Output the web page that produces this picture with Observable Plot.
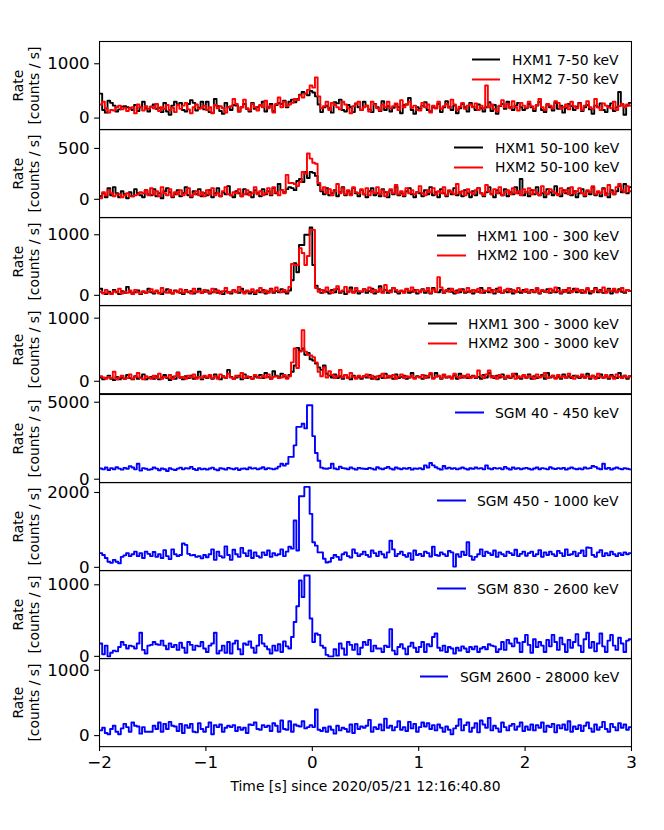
<!DOCTYPE html>
<html><head><meta charset="utf-8">
<script src="https://cdn.jsdelivr.net/npm/d3@7"></script>
<script src="https://cdn.jsdelivr.net/npm/@observablehq/plot@0.6"></script>
<style>
body{margin:0;background:#fff;}
#chart{position:relative;width:664px;height:830px;font-family:"DejaVu Sans",sans-serif;}
#chart svg{position:absolute;left:0;overflow:visible;background:transparent;}
</style></head><body><div id="chart"></div>
<script>
// time bins: start -2 s, width 0.025 s
const tStart = -2, binWidth = 0.025;
const xTicks = [-2, -1, 0, 1, 2, 3];
const xLabel = "Time [s] since 2020/05/21 12:16:40.80";
const yLabel = "Rate\n[counts / s]";

const hxm1_7_50 = [
450,150,100,320,280,230,120,160,210,220,200,180,150,240,130,200,300,180,120,210,
250,170,190,110,280,120,60,230,300,250,280,150,120,260,330,280,140,190,300,160,
300,110,100,350,220,130,80,280,200,150,240,230,120,200,260,170,120,280,170,200,
230,300,120,200,260,130,240,280,260,320,200,300,340,290,350,430,480,450,420,500,
470,400,250,110,200,230,180,100,290,270,340,150,120,240,200,110,270,200,150,300,
230,160,110,260,200,130,310,150,220,120,190,260,200,90,240,250,370,150,80,200,
170,230,290,150,120,200,180,260,110,200,310,210,150,230,90,180,260,200,120,280,
210,150,250,180,120,200,290,130,240,80,220,260,170,300,200,150,230,280,200,150,
180,260,200,130,230,300,150,110,250,200,140,280,170,230,100,190,260,220,150,210,
280,130,200,240,160,80,230,200,270,150,110,220,270,130,200,480,250,60,230,280];
const hxm2_7_50 = [
250,300,180,100,150,140,200,230,160,190,130,180,200,90,250,200,140,220,170,210,
180,260,130,200,170,240,150,190,110,240,170,230,280,160,90,200,250,170,190,230,
150,200,90,240,180,220,180,100,200,220,350,260,120,200,340,180,150,260,200,140,
240,200,320,180,230,100,260,380,200,300,220,250,280,350,330,420,380,450,520,600,
560,750,400,180,220,300,150,280,240,200,160,300,250,180,90,220,260,300,150,200,
230,120,300,250,180,140,250,200,300,180,220,270,150,330,200,250,300,190,230,150,
140,280,200,250,100,230,180,300,170,220,260,190,340,250,150,210,280,170,230,250,
200,270,150,230,180,600,200,250,170,120,230,330,200,260,180,310,200,140,280,230,
190,300,220,170,240,350,200,150,260,230,180,310,280,170,200,250,160,300,220,180,
270,150,230,310,200,170,350,200,150,270,230,200,180,300,150,220,260,200,250,230];

const hxm1_50_100 = [
30,60,20,110,40,120,60,20,80,50,10,70,30,100,60,40,20,90,50,40,
100,30,60,10,80,110,70,20,50,90,30,60,120,40,20,80,50,100,30,60,
40,90,20,60,110,30,70,50,130,40,20,80,60,30,100,50,70,20,90,60,
30,100,50,80,40,110,60,150,90,70,100,120,110,90,180,200,170,270,210,270,
260,230,140,80,50,110,40,60,90,30,70,120,40,80,50,110,60,30,90,50,
20,80,110,40,60,30,100,70,20,90,50,120,40,60,30,80,110,50,20,70,
60,30,90,50,120,40,70,20,100,60,30,80,50,110,40,70,30,90,60,20,
80,40,110,60,30,70,120,50,20,90,60,40,100,30,70,50,120,60,200,40,
70,30,90,50,120,40,60,20,100,70,40,130,50,30,90,60,110,40,80,20,
60,100,30,80,50,120,40,70,30,110,60,20,90,50,80,130,70,150,60,120];
const hxm2_50_100 = [
10,70,40,90,60,30,50,50,20,40,60,30,30,40,50,70,60,90,40,110,
50,80,30,120,60,40,100,30,70,50,90,40,60,110,30,50,80,40,70,30,
90,50,110,40,60,30,80,120,50,40,70,60,100,30,50,90,40,60,120,50,
80,40,60,110,50,120,70,40,90,60,240,160,160,150,130,170,270,250,450,400,
360,350,160,90,120,60,100,40,80,150,60,110,50,90,40,120,70,60,100,50,
110,40,80,60,120,50,90,30,70,100,60,140,50,80,40,110,60,90,50,70,
130,60,40,90,70,110,50,80,60,120,40,90,70,50,150,60,80,40,100,70,
50,90,110,60,40,140,80,50,100,60,120,40,70,90,50,110,60,80,40,100,
70,110,50,90,60,40,130,70,50,100,80,60,40,110,70,90,50,120,60,80,
110,60,40,90,70,130,50,80,60,100,40,140,70,50,120,150,90,70,130,80];

const hxm1_100_300 = [
110,40,20,60,30,90,50,20,70,40,140,60,30,50,80,20,60,40,110,50,
30,70,40,20,60,100,50,30,80,60,40,20,90,50,70,30,60,110,40,60,
80,30,50,100,40,60,20,70,50,30,90,60,40,110,50,70,30,60,20,80,
50,90,30,60,110,40,70,50,100,60,30,80,250,530,380,830,830,1000,1000,1120,
500,160,100,40,80,60,30,90,50,110,40,70,20,60,130,50,80,30,60,100,
40,70,110,30,60,150,50,90,40,80,120,60,30,70,50,100,40,60,90,30,
60,100,40,80,30,120,60,50,90,40,70,110,60,30,80,50,100,40,60,70,
30,80,60,120,40,70,50,90,30,110,60,40,80,50,100,30,70,60,40,90,
60,40,90,50,110,30,70,60,100,40,80,50,120,30,60,90,40,70,110,50,
80,40,60,100,30,70,120,50,90,40,60,110,30,80,50,100,60,40,90,70];
const hxm2_100_300 = [
60,30,90,40,20,70,50,110,30,60,40,80,20,90,50,30,70,40,60,100,
50,80,30,120,60,40,90,30,70,50,100,40,80,60,30,110,50,70,40,90,
60,40,110,50,80,30,70,120,40,60,90,50,140,70,30,80,60,100,40,70,
120,50,80,40,100,60,130,70,50,90,60,140,520,500,500,780,700,500,650,1080,
1080,120,60,90,50,130,70,40,100,150,60,80,140,50,90,40,120,70,60,100,
80,130,50,90,60,110,40,170,70,50,120,90,60,80,40,110,70,130,60,90,
50,90,70,120,40,100,60,300,130,50,90,60,110,70,40,100,80,60,120,50,
90,60,110,40,80,70,120,50,90,60,130,40,80,110,60,90,50,120,70,60,
100,50,80,60,120,40,90,70,50,110,60,130,70,40,90,60,120,50,80,110,
60,90,40,120,70,50,110,80,60,130,40,90,70,110,50,80,120,60,90,70];

const hxm1_300_3000 = [
60,30,50,90,40,20,70,30,60,40,100,50,30,80,40,60,110,30,50,70,
40,80,30,60,100,50,20,70,40,140,60,30,80,50,90,40,60,150,30,70,
50,90,40,110,60,30,80,50,180,70,40,60,90,30,110,50,70,40,80,60,
100,50,130,70,40,160,90,60,120,80,50,100,150,250,530,480,520,420,450,350,
330,280,220,180,250,120,90,60,110,50,80,40,100,60,30,90,50,70,40,80,
60,100,40,70,30,90,50,120,60,80,40,110,50,70,90,40,60,130,50,80,
70,40,90,60,110,50,130,80,40,100,60,70,50,90,40,120,60,80,50,70,
90,50,70,40,100,60,130,80,50,90,60,110,40,70,50,80,120,60,40,90,
60,110,40,80,50,70,100,40,130,60,90,50,70,40,110,60,80,50,90,70,
50,80,60,120,40,90,70,50,110,60,80,40,100,70,50,130,60,90,40,80];
const hxm2_300_3000 = [
80,60,40,70,50,150,30,60,90,40,50,110,40,70,130,50,30,80,60,40,
90,50,120,40,70,60,100,40,80,130,50,70,40,90,60,110,40,70,50,90,
60,100,50,80,40,110,70,50,120,60,40,90,70,130,50,80,60,40,100,70,
50,90,60,110,40,70,80,50,60,100,40,80,300,520,210,470,810,470,420,410,
380,300,150,80,220,60,160,100,50,80,180,60,100,50,130,70,40,90,60,80,
110,60,90,40,80,70,120,50,90,60,100,40,70,110,50,80,60,90,40,70,
60,100,50,80,130,40,70,90,50,110,60,80,40,120,70,50,90,60,110,50,
80,60,170,90,50,110,170,60,80,40,100,70,50,90,60,120,40,80,60,100,
50,90,70,40,110,60,80,130,50,70,90,40,100,60,80,50,120,70,40,90,
70,110,50,80,60,90,40,120,70,50,100,60,80,40,110,70,50,90,60,80];

const sgm_40_450 = [
700,640,760,600,720,650,780,690,620,740,680,850,760,640,1000,560,720,680,610,650,
760,690,580,700,650,530,710,640,600,690,750,640,720,700,800,660,590,710,640,680,
620,700,750,640,580,710,680,620,740,690,650,720,600,680,700,650,760,690,720,640,
700,780,650,720,690,640,700,820,1000,880,1000,1450,1450,2200,3400,3400,3600,3300,4800,4800,
2800,1700,1200,750,700,680,720,1000,700,640,820,720,700,650,760,690,620,740,700,680,
660,740,690,620,780,700,650,720,800,690,630,760,700,650,720,680,740,620,700,680,
720,650,900,760,1050,900,780,690,620,860,700,750,680,720,640,700,760,690,630,710,
670,760,690,720,640,900,700,650,740,690,720,640,800,700,620,760,680,720,650,700,
740,680,620,700,760,650,720,690,640,780,700,660,720,680,740,620,700,760,690,650,
700,640,760,690,720,860,800,700,650,1000,680,740,620,700,760,690,650,720,680,640];

const sgm_450_1000 = [
380,330,250,150,120,200,150,110,280,320,380,300,350,420,300,380,250,420,360,300,
410,280,350,250,460,300,220,480,350,300,330,640,600,360,320,330,280,300,240,330,
270,350,480,200,420,300,260,560,330,200,470,350,280,520,380,300,450,250,400,300,
260,400,330,450,280,380,320,350,480,300,420,550,500,1250,450,1900,1900,2150,2150,1430,
670,580,400,400,230,130,150,250,330,280,200,350,400,300,260,480,380,300,350,420,
330,280,450,380,300,420,350,260,400,710,480,300,360,420,330,280,380,200,450,330,
360,300,420,380,290,550,330,310,400,350,300,440,400,20,350,280,420,330,670,300,
200,280,350,480,300,420,380,330,450,280,400,350,300,420,380,330,470,300,360,420,
310,380,420,300,350,460,280,400,330,420,350,300,440,380,300,480,330,350,420,300,
380,450,300,530,520,330,280,400,460,300,380,320,420,350,300,380,330,400,350,380];

const sgm_830_2600 = [
180,30,150,0,50,80,70,130,200,160,110,150,140,110,180,330,90,40,150,160,
200,170,160,220,150,100,180,130,160,90,190,120,50,200,160,90,150,140,200,110,
60,150,180,330,40,80,150,50,200,40,180,220,100,30,180,160,210,120,50,150,
300,180,140,100,40,150,80,170,60,210,140,110,270,480,700,1060,830,1130,1130,530,
200,320,300,150,120,20,0,0,100,10,180,110,20,200,160,90,170,30,120,200,
160,230,70,150,110,110,60,150,130,380,80,30,130,170,110,30,140,190,120,60,
130,200,60,170,140,270,320,120,80,150,60,130,110,40,120,80,140,110,60,130,
100,140,60,110,130,100,170,150,140,60,100,200,90,230,180,140,250,190,60,200,
300,160,50,240,130,200,150,60,230,140,300,200,90,260,170,60,230,120,200,310,
150,60,240,330,120,200,70,180,320,140,60,220,300,150,90,260,180,60,220,240];

const sgm_2600_28000 = [
80,120,40,20,100,150,60,20,110,180,130,60,200,150,140,30,130,60,60,60,
150,100,200,60,180,100,210,150,140,70,180,40,160,120,180,60,50,190,100,60,
130,200,20,160,130,170,60,120,150,130,160,70,130,90,120,40,170,160,200,100,
90,160,130,150,70,190,150,60,230,100,90,220,60,170,150,140,220,110,130,160,
130,400,90,70,120,60,140,90,30,150,80,120,100,60,170,40,180,100,140,120,
150,240,60,130,100,170,80,260,120,150,80,130,220,90,130,70,210,110,180,60,
130,200,140,190,100,160,80,170,120,60,140,90,20,110,150,250,80,160,200,60,
120,190,50,230,170,120,270,80,150,110,60,200,130,80,150,180,90,140,200,70,
140,90,170,80,160,120,200,60,150,130,180,50,160,110,170,90,220,60,140,100,
160,70,150,200,110,60,170,90,130,210,100,60,180,130,80,190,120,170,90,130];

const panels = [
  {series:[{v:hxm1_7_50,c:"black",l:"HXM1 7-50 keV"},{v:hxm2_7_50,c:"red",l:"HXM2 7-50 keV"}], domain:[-213,1410], ticks:[0,1000], leg:[472,500,512]},
  {series:[{v:hxm1_50_100,c:"black",l:"HXM1 50-100 keV"},{v:hxm2_50_100,c:"red",l:"HXM2 50-100 keV"}], domain:[-180,686], ticks:[0,500], leg:[454,483,495]},
  {series:[{v:hxm1_100_300,c:"black",l:"HXM1 100 - 300 keV"},{v:hxm2_100_300,c:"red",l:"HXM2 100 - 300 keV"}], domain:[-170,1285], ticks:[0,1000], leg:[437,466,477]},
  {series:[{v:hxm1_300_3000,c:"black",l:"HXM1 300 - 3000 keV"},{v:hxm2_300_3000,c:"red",l:"HXM2 300 - 3000 keV"}], domain:[-196,1201], ticks:[0,1000], leg:[428,457,468]},
  {series:[{v:sgm_40_450,c:"blue",l:"SGM 40 - 450 keV"}], domain:[-222,5502], ticks:[0,5000], leg:[455,484,495]},
  {series:[{v:sgm_450_1000,c:"blue",l:"SGM 450 - 1000 keV"}], domain:[-88,2267], ticks:[0,2000], leg:[437,466,477]},
  {series:[{v:sgm_830_2600,c:"blue",l:"SGM 830 - 2600 keV"}], domain:[-32,1200], ticks:[0,1000], leg:[437,466,477]},
  {series:[{v:sgm_2600_28000,c:"blue",l:"SGM 2600 - 28000 keV"}], domain:[-169,1180], ticks:[0,1000], leg:[420,448,460]}
];

function toSteps(v){
  const pts = v.map((y,i)=>({x: tStart + i*binWidth, y}));
  pts.push({x: tStart + v.length*binWidth, y: v[v.length-1]});
  return pts;
}
function legendMark(p){
  return (index, scales, values, dims) => {
    const g = d3.create("svg:g");
    p.series.forEach((s,j)=>{
      const y = dims.marginTop + 18.5 + 20*j;
      g.append("line").attr("x1",p.leg[0]).attr("x2",p.leg[1]).attr("y1",y).attr("y2",y)
        .attr("stroke",s.c).attr("stroke-width",2);
      g.append("text").attr("x",p.leg[2]).attr("y",y).attr("dy","0.36em")
        .attr("text-anchor","start").attr("font-size",13.9).attr("fill","black").text(s.l);
    });
    return g.node();
  };
}
const minus = d => (d < 0 ? "\u2212" : "") + Math.abs(d);
const plain = d => String(d);
const chart = document.getElementById("chart");
const panelH = 88.15, top0 = 41;
panels.forEach((p,k)=>{
  const last = k === panels.length-1;
  const mt = 1, mb = last ? 84 : 1;
  const marks = [
    ...p.series.map(s => Plot.line(toSteps(s.v), {x:"x", y:"y", curve:"step-after", stroke:s.c, strokeWidth:1.9, strokeLinejoin:"round", clip:true})),
    Plot.axisY({ticks:p.ticks, tickFormat:plain, tickSize:4.9, tickPadding:4.9, fontSize:16.7, label:null, stroke:"black", fill:"black", strokeWidth:1.1}),
    Plot.frame({stroke:"black", strokeWidth:1.1}),
    Plot.text([yLabel], {frameAnchor:"left", dx:-73.5, rotate:-90, fontSize:13.9, lineHeight:1.12, textAnchor:"middle", lineAnchor:"middle", fill:"black"}),
    legendMark(p)
  ];
  if (last) {
    marks.push(Plot.axisX({ticks:xTicks, tickSize:4.9, tickPadding:4.9, fontSize:16.7, tickFormat:minus, label:null, stroke:"black", fill:"black", strokeWidth:1.1}));
    marks.push(Plot.text([xLabel], {frameAnchor:"bottom", dy:34, lineAnchor:"top", fontSize:13.9, fill:"black"}));
  }
  const svg = Plot.plot({
    width:664, height:panelH+mt+mb, marginLeft:99, marginRight:33, marginTop:mt, marginBottom:mb,
    x:{domain:[-2,3], axis: last ? undefined : null},
    y:{domain:p.domain},
    style:{fontFamily:"DejaVu Sans", background:"transparent", overflow:"visible", color:"black"},
    marks
  });
  svg.style.top = (top0 + k*panelH - mt) + "px";
  chart.append(svg);
});
</script></body></html>
